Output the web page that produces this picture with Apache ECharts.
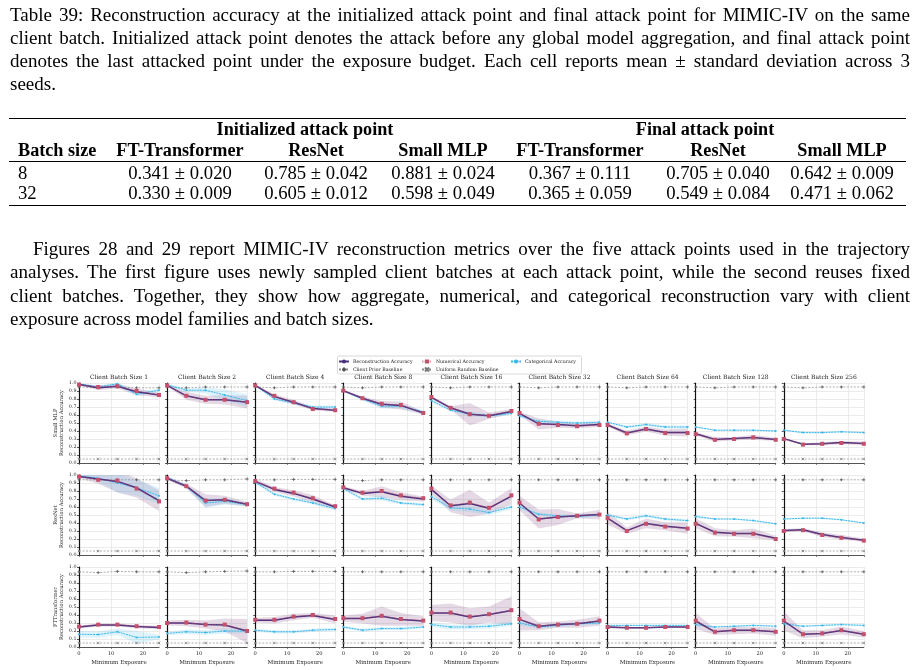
<!DOCTYPE html>
<html><head><meta charset="utf-8">
<script src="https://cdn.jsdelivr.net/npm/echarts@6/dist/echarts.min.js"></script>
<style>
html,body{margin:0;padding:0;background:#fff;}
#page{position:relative;width:916px;height:670px;overflow:hidden;font-family:"Liberation Serif","Times New Roman",serif;color:#000;}
#chart{position:absolute;left:0;top:0;width:916px;height:670px;z-index:1;}
.ln{position:absolute;left:10px;width:900px;font-size:19px;line-height:23px;height:23px;text-align:justify;text-align-last:justify;z-index:2;}
.ln.last{text-align-last:left;}
.rule{position:absolute;left:9px;width:897px;background:#000;z-index:2;}
.cell{position:absolute;font-size:18.7px;line-height:20px;height:20px;transform:translateX(-50%);white-space:nowrap;z-index:2;}
.b{font-weight:bold;font-size:18.2px;}
</style></head>
<body>
<div id="page"><div id="chart"></div></div>
<script>
// ---------- text ----------
const captionLines = [
 "Table 39: Reconstruction accuracy at the initialized attack point and final attack point for MIMIC-IV on the same",
 "client batch. Initialized attack point denotes the attack before any global model aggregation, and final attack point",
 "denotes the last attacked point under the exposure budget. Each cell reports mean \u00b1 standard deviation across 3",
 "seeds."
];
const paragraphLines = [
 "Figures 28 and 29 report MIMIC-IV reconstruction metrics over the five attack points used in the trajectory",
 "analyses. The first figure uses newly sampled client batches at each attack point, while the second reuses fixed",
 "client batches. Together, they show how aggregate, numerical, and categorical reconstruction vary with client",
 "exposure across model families and batch sizes."
];
// ---------- table data ----------
const tableGroups = ["Initialized attack point", "Final attack point"];
const tableModels = ["FT-Transformer", "ResNet", "Small MLP"];
const tableBatch = ["8", "32"];
const initMean = [[0.341, 0.785, 0.881], [0.330, 0.605, 0.598]];
const initSd   = [[0.020, 0.042, 0.024], [0.009, 0.012, 0.049]];
const finalMean = [[0.367, 0.705, 0.642], [0.365, 0.549, 0.471]];
const finalSd   = [[0.111, 0.040, 0.009], [0.059, 0.084, 0.062]];

// ---------- figure data ----------
const exposure = [0, 6, 12, 18, 25];
const batchSizes = [1, 2, 4, 8, 16, 32, 64, 128, 256];
const modelNames = ["Small MLP", "ResNet", "FTTransformer"];

const mlpNum = [
 [0.98,0.95,0.96,0.90,0.85],[0.97,0.84,0.79,0.79,0.76],[0.97,0.84,0.76,0.675,0.66],
 [0.905,0.81,0.74,0.725,0.625],[0.825,0.69,0.61,0.59,0.65],[0.625,0.49,0.475,0.46,0.475],
 [0.475,0.37,0.425,0.375,0.375],[0.36,0.29,0.30,0.32,0.29],[0.30,0.23,0.24,0.25,0.24]];
const mlpRecon = [
 [0.98,0.94,0.96,0.89,0.85],[0.97,0.84,0.79,0.79,0.76],[0.97,0.83,0.76,0.68,0.66],
 [0.905,0.81,0.735,0.72,0.625],[0.82,0.69,0.61,0.59,0.645],[0.62,0.49,0.48,0.465,0.48],
 [0.475,0.375,0.425,0.38,0.38],[0.365,0.295,0.305,0.32,0.295],[0.305,0.235,0.24,0.255,0.245]];
const mlpReconSd = [
 [0.01,0.03,0.03,0.04,0.03],[0.01,0.05,0.05,0.06,0.08],[0.01,0.03,0.03,0.02,0.02],
 [0.01,0.02,0.04,0.05,0.02],[0.02,0.02,0.14,0.04,0.03],[0.02,0.07,0.04,0.03,0.03],
 [0.02,0.03,0.03,0.04,0.05],[0.02,0.03,0.02,0.03,0.02],[0.01,0.01,0.02,0.02,0.02]];
const mlpCat = [
 [0.99,0.95,0.99,0.86,0.91],[0.98,0.91,0.91,0.85,0.78],[0.97,0.80,0.75,0.70,0.70],
 [0.90,0.80,0.71,0.71,0.64],[0.78,0.66,0.615,0.59,0.62],[0.59,0.52,0.51,0.50,0.51],
 [0.51,0.45,0.48,0.45,0.45],[0.45,0.41,0.41,0.41,0.40],[0.41,0.38,0.38,0.39,0.38]];
const mlpCatSd = [
 [0.01,0.02,0.02,0.03,0.02],[0.01,0.02,0.04,0.07,0.08],[0.01,0.02,0.02,0.02,0.02],
 [0.01,0.02,0.03,0.03,0.02],[0.02,0.02,0.03,0.02,0.02],[0.02,0.02,0.02,0.02,0.02],
 [0.01,0.02,0.02,0.02,0.02],[0.01,0.01,0.01,0.01,0.01],[0.01,0.01,0.01,0.01,0.01]];
const mlpPrior = [
 [0.95,0.94,0.95,0.94,0.94],[0.95,0.94,0.95,0.95,0.95],[0.95,0.94,0.95,0.95,0.95],
 [0.95,0.94,0.95,0.95,0.95],[0.95,0.94,0.95,0.95,0.95],[0.95,0.94,0.95,0.95,0.95],
 [0.95,0.94,0.95,0.95,0.95],[0.95,0.94,0.95,0.95,0.95],[0.95,0.94,0.95,0.95,0.95]];
const mlpUniform = [0.05,0.05,0.05,0.05,0.05];

const resNum = [
 [0.98,0.94,0.93,0.83,0.67],[0.96,0.86,0.68,0.69,0.635],[0.925,0.83,0.78,0.71,0.61],
 [0.845,0.78,0.80,0.745,0.71],[0.83,0.62,0.655,0.59,0.745],[0.655,0.445,0.475,0.49,0.505],
 [0.46,0.30,0.39,0.355,0.33],[0.39,0.28,0.265,0.265,0.20],[0.30,0.31,0.25,0.215,0.18]];
const resRecon = [
 [0.98,0.95,0.92,0.84,0.68],[0.96,0.86,0.68,0.69,0.635],[0.92,0.82,0.77,0.70,0.60],
 [0.84,0.77,0.79,0.735,0.70],[0.82,0.615,0.645,0.585,0.735],[0.65,0.45,0.475,0.49,0.505],
 [0.46,0.305,0.395,0.36,0.335],[0.395,0.285,0.27,0.27,0.21],[0.305,0.315,0.255,0.22,0.185]];
const resReconSd = [
 [0.02,0.06,0.14,0.12,0.13],[0.02,0.03,0.08,0.05,0.03],[0.03,0.03,0.04,0.05,0.02],
 [0.02,0.03,0.07,0.05,0.03],[0.05,0.08,0.17,0.07,0.10],[0.09,0.12,0.10,0.03,0.06],
 [0.08,0.04,0.06,0.05,0.07],[0.06,0.05,0.04,0.06,0.03],[0.02,0.02,0.03,0.03,0.02]];
const resCat = [
 [0.99,0.96,0.90,0.84,0.74],[0.97,0.86,0.65,0.67,0.63],[0.91,0.76,0.70,0.65,0.58],
 [0.83,0.70,0.71,0.65,0.63],[0.73,0.59,0.575,0.53,0.60],[0.60,0.51,0.49,0.48,0.50],
 [0.50,0.45,0.49,0.45,0.43],[0.48,0.45,0.45,0.43,0.39],[0.45,0.46,0.46,0.44,0.40]];
const resCatSd = [
 [0.01,0.04,0.12,0.10,0.10],[0.01,0.02,0.06,0.04,0.02],[0.02,0.02,0.02,0.02,0.02],
 [0.02,0.02,0.03,0.02,0.02],[0.03,0.03,0.04,0.03,0.03],[0.03,0.02,0.02,0.02,0.02],
 [0.02,0.02,0.02,0.02,0.02],[0.02,0.01,0.01,0.01,0.01],[0.01,0.01,0.01,0.01,0.01]];
const resPrior = [
 [0.94,0.94,0.94,0.94,0.94],[0.94,0.93,0.94,0.94,0.95],[0.94,0.94,0.945,0.945,0.945],
 [0.94,0.93,0.94,0.94,0.94],[0.94,0.94,0.94,0.94,0.94],[0.94,0.94,0.94,0.94,0.94],
 [0.94,0.94,0.94,0.94,0.94],[0.94,0.94,0.94,0.94,0.94],[0.94,0.94,0.94,0.94,0.94]];
const resUniform = [0.05,0.05,0.05,0.05,0.05];

const ftNum = [
 [0.255,0.28,0.28,0.26,0.25],[0.30,0.305,0.28,0.28,0.20],[0.34,0.34,0.38,0.40,0.35],
 [0.36,0.36,0.39,0.35,0.33],[0.43,0.43,0.38,0.41,0.46],[0.35,0.26,0.28,0.29,0.33],
 [0.25,0.24,0.24,0.25,0.25],[0.33,0.19,0.21,0.21,0.19],[0.33,0.16,0.17,0.21,0.16]];
const ftRecon = [
 [0.25,0.275,0.275,0.255,0.245],[0.30,0.30,0.28,0.275,0.20],[0.335,0.335,0.375,0.395,0.345],
 [0.355,0.355,0.385,0.345,0.325],[0.425,0.425,0.375,0.405,0.455],[0.345,0.26,0.28,0.29,0.325],
 [0.25,0.24,0.24,0.25,0.25],[0.325,0.19,0.21,0.21,0.19],[0.325,0.16,0.17,0.205,0.16]];
const ftReconSd = [
 [0.02,0.02,0.02,0.02,0.02],[0.03,0.04,0.05,0.08,0.15],[0.03,0.04,0.04,0.03,0.05],
 [0.04,0.06,0.12,0.08,0.06],[0.10,0.12,0.11,0.10,0.18],[0.14,0.05,0.04,0.05,0.06],
 [0.02,0.01,0.01,0.01,0.01],[0.10,0.04,0.05,0.04,0.05],[0.12,0.05,0.04,0.05,0.04]];
const ftCat = [
 [0.16,0.155,0.19,0.12,0.125],[0.17,0.19,0.18,0.20,0.20],[0.21,0.19,0.19,0.21,0.22],
 [0.25,0.21,0.23,0.23,0.25],[0.28,0.25,0.25,0.26,0.29],[0.30,0.25,0.27,0.29,0.30],
 [0.27,0.27,0.27,0.27,0.27],[0.28,0.25,0.26,0.27,0.26],[0.29,0.26,0.27,0.28,0.27]];
const ftCatSd = [
 [0.04,0.04,0.04,0.08,0.03],[0.02,0.03,0.03,0.03,0.03],[0.02,0.02,0.02,0.02,0.02],
 [0.02,0.02,0.02,0.02,0.02],[0.03,0.03,0.03,0.03,0.03],[0.03,0.02,0.02,0.02,0.02],
 [0.01,0.01,0.01,0.01,0.01],[0.02,0.01,0.01,0.01,0.01],[0.02,0.01,0.01,0.01,0.01]];
const ftPrior = [
 [0.94,0.93,0.945,0.94,0.94],[0.94,0.93,0.94,0.945,0.95],[0.94,0.94,0.945,0.945,0.945],
 [0.94,0.94,0.94,0.94,0.94],[0.94,0.94,0.94,0.94,0.94],[0.94,0.94,0.94,0.94,0.94],
 [0.94,0.94,0.94,0.94,0.94],[0.94,0.94,0.94,0.94,0.94],[0.94,0.94,0.94,0.94,0.94]];
const ftUniform = [0.05,0.05,0.05,0.05,0.05];

// ---------- build HTML text ----------
const page = document.getElementById('page');
function addLine(text, top, cls, indent){
  const d = document.createElement('div');
  d.className = 'ln' + (cls ? ' ' + cls : '');
  d.style.top = top + 'px';
  if (indent) { d.style.left = (10 + indent) + 'px'; d.style.width = (900 - indent) + 'px'; }
  d.textContent = text;
  page.appendChild(d);
}
const capTops = [2.5, 25.5, 48.5, 71.5];
captionLines.forEach((t, i) => addLine(t, capTops[i], i === captionLines.length - 1 ? 'last' : ''));
const parTops = [236.5, 260, 283.5, 307];
paragraphLines.forEach((t, i) => addLine(t, parTops[i], i === paragraphLines.length - 1 ? 'last' : '', i === 0 ? 23 : 0));

function addRule(y, h){ const r = document.createElement('div'); r.className='rule'; r.style.top=y+'px'; r.style.height=h+'px'; page.appendChild(r); }
addRule(117.5, 1.4); addRule(160.5, 0.8); addRule(204.5, 1.4);
function addCell(text, cx, cy, bold, left){
  const d = document.createElement('div');
  d.className = 'cell' + (bold ? ' b' : '');
  d.style.top = (cy - 10) + 'px';
  d.style.left = cx + 'px';
  if (left) d.style.transform = 'none';
  d.textContent = text; page.appendChild(d);
}
const colCenters = [180, 316, 443, 580, 718, 842];
addCell(tableGroups[0], 305, 129, true);
addCell(tableGroups[1], 705, 129, true);
addCell("Batch size", 18, 150, true, true);
tableModels.concat(tableModels).forEach((m, j) => addCell(m, colCenters[j], 150, true));
const rowYs = [173, 193];
tableBatch.forEach((b, i) => {
  addCell(b, 18, rowYs[i], false, true);
  for (let j = 0; j < 3; j++) {
    addCell(initMean[i][j].toFixed(3) + " \u00b1 " + initSd[i][j].toFixed(3), colCenters[j], rowYs[i]);
    addCell(finalMean[i][j].toFixed(3) + " \u00b1 " + finalSd[i][j].toFixed(3), colCenters[j + 3], rowYs[i]);
  }
});

// ---------- ECharts figure ----------
const rowsData = [
  {name: modelNames[0], num: mlpNum, recon: mlpRecon, reconSd: mlpReconSd, cat: mlpCat, catSd: mlpCatSd, prior: mlpPrior, uniform: mlpUniform},
  {name: modelNames[1], num: resNum, recon: resRecon, reconSd: resReconSd, cat: resCat, catSd: resCatSd, prior: resPrior, uniform: resUniform},
  {name: modelNames[2], num: ftNum, recon: ftRecon, reconSd: ftReconSd, cat: ftCat, catSd: ftCatSd, prior: ftPrior, uniform: ftUniform}
];
const SERIF = 'DejaVu Serif';
const C_RECON = '#47307f', C_NUM = '#c4506c', C_CAT = '#38b8ea', C_BASE = '#8a8a8a';
const grids = [], xAxes = [], yAxes = [], series = [], graphics = [];
const pts = arr => exposure.map((x, i) => [x, arr[i]]);
const GX0 = 79, GDX = 88.1, GY0 = 383, GDY = 92, GW = 80, GH = 80;

function bandSeries(gi, mean, sd, color){
  const lo = mean.map((v, i) => v - sd[i]);
  const hi = mean.map((v, i) => v + sd[i]);
  return {
    type: 'custom', xAxisIndex: gi, yAxisIndex: gi, silent: true, z: 1, clip: true, animation: false,
    data: exposure.map((x, i) => [x, lo[i], hi[i]]),
    encode: {x: 0, y: [1, 2]},
    renderItem: (params, api) => {
      if (params.dataIndex !== 0) return null;
      const top = exposure.map((x, i) => api.coord([x, hi[i]]));
      const bot = exposure.map((x, i) => api.coord([x, lo[i]])).reverse();
      return {type: 'polygon', shape: {points: top.concat(bot)}, style: {fill: color}};
    }
  };
}

rowsData.forEach((row, r) => {
  batchSizes.forEach((bs, c) => {
    const gi = r * 9 + c;
    const left = GX0 + c * GDX, top = GY0 + r * GDY;
    grids.push({left: left, top: top, width: GW, height: GH, containLabel: false});
    xAxes.push({
      gridIndex: gi, type: 'value', min: 0, max: 25, interval: 10,
      axisLine: {show: true, onZero: false, lineStyle: {color: '#555', width: 1.1}},
      axisTick: {show: true, length: 2, lineStyle: {color: '#555', width: 0.7}},
      axisLabel: {show: r === 2, fontSize: 5.2, color: '#222', margin: 4.5, fontFamily: SERIF, showMaxLabel: false},
      splitLine: {show: true, lineStyle: {color: '#e6e6e6', width: 0.8}},
      name: r === 2 ? 'Minimum Exposure' : '', nameLocation: 'middle', nameGap: 12.5,
      nameTextStyle: {fontSize: 5.6, fontFamily: SERIF, color: '#222'}
    });
    yAxes.push({
      gridIndex: gi, type: 'value', min: 0, max: 1, interval: 0.1,
      axisLine: {show: true, lineStyle: {color: '#111', width: 1.2}},
      axisTick: {show: true, length: 2, lineStyle: {color: '#111', width: 0.7}},
      axisLabel: {show: c === 0, fontSize: 4.8, color: '#222', margin: 2.5, fontFamily: SERIF, formatter: v => v.toFixed(1)},
      splitLine: {show: true, lineStyle: {color: '#e6e6e6', width: 0.8}},
      name: c === 0 ? row.name + '\nReconstruction Accuracy' : '', nameLocation: 'middle', nameGap: 10, nameRotate: 90,
      nameTextStyle: {fontSize: 5.2, lineHeight: 6, fontFamily: SERIF, color: '#222'}
    });
    const base = {xAxisIndex: gi, yAxisIndex: gi, type: 'line', animation: false};
    const rm = row.recon[c], rs = row.reconSd[c], cm = row.cat[c], cs = row.catSd[c];
    series.push(bandSeries(gi, rm, rs, 'rgba(130,80,130,0.22)'));
    series.push(bandSeries(gi, cm, cs, 'rgba(110,200,240,0.22)'));
    // baselines
    series.push(Object.assign({}, base, {name: 'Client Prior Baseline', data: pts(row.prior[c]), symbol: 'path://M0,4H8M4,0V8', symbolSize: 3,
      itemStyle: {color: C_BASE, borderColor: '#555', borderWidth: 0.8}, lineStyle: {color: C_BASE, width: 0.7, type: [2, 1.5]}, z: 2}));
    series.push(Object.assign({}, base, {name: 'Uniform Random Baseline', data: pts(row.uniform), symbol: 'path://M0,0L8,8M8,0L0,8', symbolSize: 2.5,
      itemStyle: {color: C_BASE, borderColor: '#777', borderWidth: 0.8}, lineStyle: {color: C_BASE, width: 0.7, type: [2, 1.5]}, z: 2}));
    // categorical
    series.push(Object.assign({}, base, {name: 'Categorical Accuracy', data: pts(cm), symbol: 'circle', symbolSize: 2,
      itemStyle: {color: C_CAT}, lineStyle: {color: C_CAT, width: 1, type: [2, 0.8]}, z: 3}));
    // reconstruction
    series.push(Object.assign({}, base, {name: 'Reconstruction Accuracy', data: pts(rm), symbol: 'circle', symbolSize: 2,
      itemStyle: {color: C_RECON}, lineStyle: {color: C_RECON, width: 1.5}, z: 4}));
    // numerical
    series.push(Object.assign({}, base, {name: 'Numerical Accuracy', data: pts(row.num[c]), symbol: 'rect', symbolSize: 4,
      itemStyle: {color: C_NUM}, lineStyle: {color: C_NUM, width: 1, opacity: 0.6, type: [1.5, 1]}, z: 5}));
    if (r === 0) {
      graphics.push({type: 'text', x: left + GW / 2, y: 377.5, z: 10,
        style: {text: 'Client Batch Size ' + bs, fontSize: 6, fontFamily: SERIF, fill: '#222', align: 'center', verticalAlign: 'middle', textAlign: 'center', textVerticalAlign: 'middle'}});
    }
  });
});
// legend box
graphics.push({type: 'rect', shape: {x: 337.5, y: 356, width: 244, height: 18, r: 1.5}, z: 5,
  style: {fill: 'rgba(255,255,255,0.9)', stroke: '#cfcfcf', lineWidth: 0.8}});

const legendItems = [
  {name: 'Reconstruction Accuracy', left: 338, top: 359},
  {name: 'Numerical Accuracy', left: 421, top: 359},
  {name: 'Categorical Accuracy', left: 510, top: 359},
  {name: 'Client Prior Baseline', left: 338, top: 366.5},
  {name: 'Uniform Random Baseline', left: 421, top: 366.5}
];
const legends = legendItems.map(it => ({
  data: [it.name], left: it.left, top: it.top, padding: 0, itemWidth: 10, itemHeight: 5, selectedMode: false, z: 20,
  textStyle: {fontSize: 4.7, fontFamily: SERIF, color: '#222', padding: [0, 0, 0, -1]}
}));

const chart = echarts.init(document.getElementById('chart'), null, {renderer: 'canvas'});
chart.setOption({
  animation: false,
  backgroundColor: 'transparent',
  grid: grids, xAxis: xAxes, yAxis: yAxes, series: series,
  legend: legends, graphic: graphics
});
</script>
</body></html>
